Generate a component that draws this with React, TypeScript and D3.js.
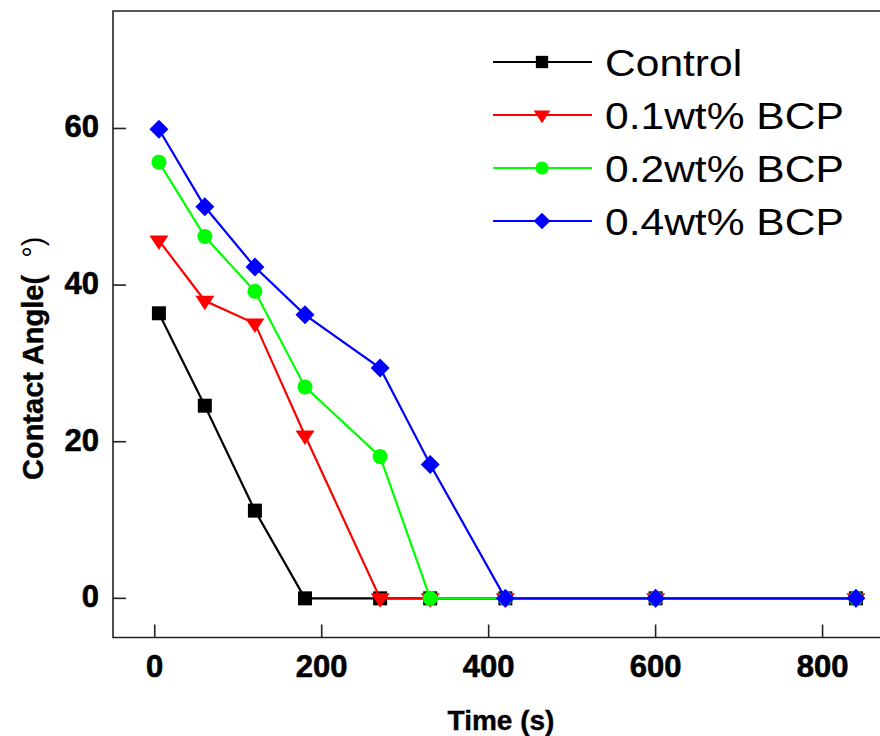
import React from 'react';
import * as d3 from 'd3';

const times = [5, 60, 120, 180, 270, 330, 420, 600, 840];
const control = [36.4, 24.6, 11.2, 0, 0, 0, 0, 0, 0];
const bcp01 = [45.7, 38.0, 35.1, 20.8, 0, 0, 0, 0, 0];
const bcp02 = [55.7, 46.2, 39.2, 27.0, 18.1, 0, 0, 0, 0];
const bcp04 = [59.9, 50.0, 42.3, 36.2, 29.4, 17.1, 0, 0, 0];

const seriesNames = ['Control', '0.1wt% BCP', '0.2wt% BCP', '0.4wt% BCP'];
const seriesColors = ['#000000', '#ff0000', '#00ff00', '#0000ff'];
const seriesShapes = ['square', 'triangle', 'circle', 'diamond'];
const seriesValues = [control, bcp01, bcp02, bcp04];

const xTicks = [0, 200, 400, 600, 800];
const yTicks = [0, 20, 40, 60];

const W = 880, H = 736;
const left = 113, top = 11, bottom = 637.5, right = 881;

// marker path centred at 0,0
const markerPath = (shape: string, k = 1) => {
  if (shape === 'square') {
    const s = 7 * k;
    return `M${-s},${-s}H${s}V${s}H${-s}Z`;
  }
  if (shape === 'triangle') {
    const w = 9.5 * k;
    return `M${-w},${-5 * k}L${w},${-5 * k}L0,${9.5 * k}Z`;
  }
  if (shape === 'circle') {
    const r = 7.5 * k;
    return `M${-r},0A${r},${r} 0 1,0 ${r},0A${r},${r} 0 1,0 ${-r},0Z`;
  }
  const d = 9.5 * k;
  return `M0,${-d}L${d},0L0,${d}L${-d},0Z`;
};

export default function App() {
  const x = d3.scaleLinear().domain([-50, 870]).range([left, right]);
  const y = d3.scaleLinear().domain([-5, 75]).range([bottom, top]);

  const line = d3.line<[number, number]>()
    .x(d => x(d[0]))
    .y(d => y(d[1]));

  const font = 'Liberation Sans, Arial, sans-serif';
  const legendY = [62, 115, 168, 221];

  return (
    <svg width={W} height={H} style={{ position: 'absolute', left: 0, top: 0, background: '#fff' }}>
      <rect x={0} y={0} width={W} height={H} fill="#fff" />
      {/* frame */}
      <path d={`M${right + 5},${top}H${left}V${bottom}H${right + 5}`} fill="none" stroke="#222" strokeWidth={1.6} />

      {/* ticks */}
      {xTicks.map(t => (
        <g key={'x' + t}>
          <line x1={x(t)} x2={x(t)} y1={bottom} y2={bottom - 13} stroke="#222" strokeWidth={1.6} />
          <text x={x(t)} y={bottom + 39} textAnchor="middle" fontFamily={font} fontWeight="bold" fontSize={31} stroke="#000" strokeWidth={0.6}>{t}</text>
        </g>
      ))}
      {yTicks.map(t => (
        <g key={'y' + t}>
          <line x1={left} x2={left + 13} y1={y(t)} y2={y(t)} stroke="#222" strokeWidth={1.6} />
          <text x={99} y={y(t) + 9} textAnchor="end" fontFamily={font} fontWeight="bold" fontSize={31} stroke="#000" strokeWidth={0.6}>{t}</text>
        </g>
      ))}

      {/* axis titles */}
      <text x={501} y={730} textAnchor="middle" fontFamily={font} fontWeight="bold" fontSize={28} stroke="#000" strokeWidth={0.4}>Time (s)</text>
      <text transform="translate(43,480) rotate(-90)" fontFamily={font} fontSize={29}>
        <tspan fontWeight="bold" stroke="#000" strokeWidth={0.4}>Contact Angle(</tspan>
        <tspan dx={17}>°</tspan>
        <tspan>)</tspan>
      </text>

      {/* series */}
      {seriesValues.map((vals, i) => {
        const pts = times.map((t, j) => [t, vals[j]] as [number, number]);
        return (
          <g key={seriesNames[i]}>
            <path d={line(pts) || ''} fill="none" stroke={seriesColors[i]} strokeWidth={2.2} />
            {pts.map((p, j) => (
              <path key={j} d={markerPath(seriesShapes[i])} transform={`translate(${x(p[0])},${y(p[1])})`} fill={seriesColors[i]} />
            ))}
          </g>
        );
      })}

      {/* legend */}
      {seriesNames.map((name, i) => (
        <g key={'leg' + i}>
          <line x1={493} x2={592} y1={legendY[i]} y2={legendY[i]} stroke={seriesColors[i]} strokeWidth={2.2} />
          <path d={markerPath(seriesShapes[i], 0.88)} transform={`translate(542,${legendY[i]})`} fill={seriesColors[i]} />
          <text transform={`translate(605,${legendY[i] + 14}) scale(1.15,1)`} fontFamily={font} fontSize={37}>{name}</text>
        </g>
      ))}
    </svg>
  );
}
